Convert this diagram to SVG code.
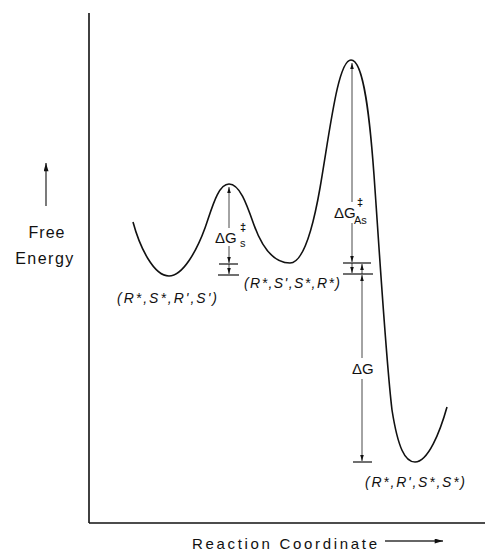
<svg xmlns="http://www.w3.org/2000/svg" width="486" height="551" viewBox="0 0 486 551">
<defs>
<marker id="ah" viewBox="0 0 10 6" refX="10" refY="3" markerWidth="6" markerHeight="4" orient="auto" markerUnits="userSpaceOnUse">
<path d="M0,0 L10,3 L0,6 z" fill="#111"/>
</marker>
<marker id="big" viewBox="0 0 10 6" refX="10" refY="3" markerWidth="10" markerHeight="5" orient="auto" markerUnits="userSpaceOnUse">
<path d="M0,0 L10,3 L0,6 z" fill="#111"/>
</marker>
</defs>
<style>
.ax{stroke:#111;stroke-width:1.6;fill:none}
.curve{stroke:#111;stroke-width:1.6;fill:none}
.dim{stroke:#333;stroke-width:0.9;fill:none}
.bar{stroke:#111;stroke-width:1.2}
.lbl{font-family:"Liberation Sans",Arial,sans-serif;fill:#111}
.st{font-family:"Liberation Sans",Arial,sans-serif;font-style:italic;font-size:14px;fill:#111}
</style>
<rect width="486" height="551" fill="#fff"/>
<g id="axes">
<line class="ax" x1="89" y1="13" x2="89" y2="523"/>
<line class="ax" x1="89" y1="523" x2="485" y2="523"/>
</g>
<g id="y-label">
<line class="dim" x1="46" y1="206" x2="46" y2="163" marker-end="url(#big)" style="stroke-width:1.3"/>
<text class="lbl" x="47" y="238" font-size="16" text-anchor="middle" letter-spacing="1">Free</text>
<text class="lbl" x="45" y="264" font-size="16" text-anchor="middle" letter-spacing="1.5">Energy</text>
</g>
<g id="x-label">
<text class="lbl" x="192" y="549" font-size="15" textLength="185" lengthAdjust="spacing">Reaction Coordinate</text>
<line class="dim" x1="385" y1="541" x2="443" y2="541" marker-end="url(#big)" style="stroke-width:1.3"/>
</g>
<g id="energy-curve">
<path class="curve" d="M133,222 C140,248 154,276 169,276 C183,276 197,250 205,228 C212,208 218,184 229,184 C240,184 247,205 254,225 C263,250 275,263 290,263 C303,263 313,228 320,188 C330,130 338,60 351,60 C364,60 370,120 374,175 C380,260 386,360 392,410 C398,448 405,462 415,462 C428,462 440,432 447,407"/>
</g>
<g id="connectors">
<line class="dim" x1="229" y1="228" x2="229" y2="187" marker-end="url(#ah)"/>
<line class="dim" x1="229" y1="246" x2="229" y2="263" marker-end="url(#ah)"/>
<line class="dim" x1="229" y1="264" x2="229" y2="274" marker-end="url(#ah)"/>
<line class="dim" x1="352" y1="202" x2="352" y2="63" marker-end="url(#ah)"/>
<line class="dim" x1="352" y1="223" x2="352" y2="262" marker-end="url(#ah)"/>
<line class="dim" x1="352" y1="263" x2="352" y2="273" marker-end="url(#ah)"/>
<line class="dim" x1="362" y1="274" x2="362" y2="264" marker-end="url(#ah)"/>
<line class="dim" x1="362" y1="358" x2="362" y2="275" marker-end="url(#ah)"/>
<line class="dim" x1="362" y1="379" x2="362" y2="461" marker-end="url(#ah)"/>
</g>
<g id="bars">
<line class="bar" x1="219" y1="264" x2="238" y2="264"/>
<line class="bar" x1="218" y1="275" x2="239" y2="275"/>
<line class="bar" x1="343" y1="263" x2="371" y2="263"/>
<line class="bar" x1="343" y1="274" x2="373" y2="274"/>
<line class="bar" x1="353" y1="462" x2="372" y2="462"/>
</g>
<g id="dG-s">
<text class="lbl" x="215" y="243" font-size="15">ΔG</text>
<text class="lbl" x="240" y="231" font-size="11" font-weight="bold">‡</text>
<text class="lbl" x="240" y="247" font-size="11">s</text>
</g>
<g id="dG-As">
<text class="lbl" x="334" y="218" font-size="15">ΔG</text>
<text class="lbl" x="357" y="206" font-size="11" font-weight="bold">‡</text>
<text class="lbl" x="354" y="224" font-size="11">As</text>
</g>
<g id="dG">
<text class="lbl" x="352" y="374" font-size="15">ΔG</text>
</g>
<g id="state-1">
<text class="st" x="117" y="303" textLength="100" lengthAdjust="spacing">(R*,S*,R',S')</text>
</g>
<g id="state-2">
<text class="st" x="244" y="288" textLength="96" lengthAdjust="spacing">(R*,S',S*,R*)</text>
</g>
<g id="state-3">
<text class="st" x="365" y="487" textLength="100" lengthAdjust="spacing">(R*,R',S*,S*)</text>
</g>
</svg>
